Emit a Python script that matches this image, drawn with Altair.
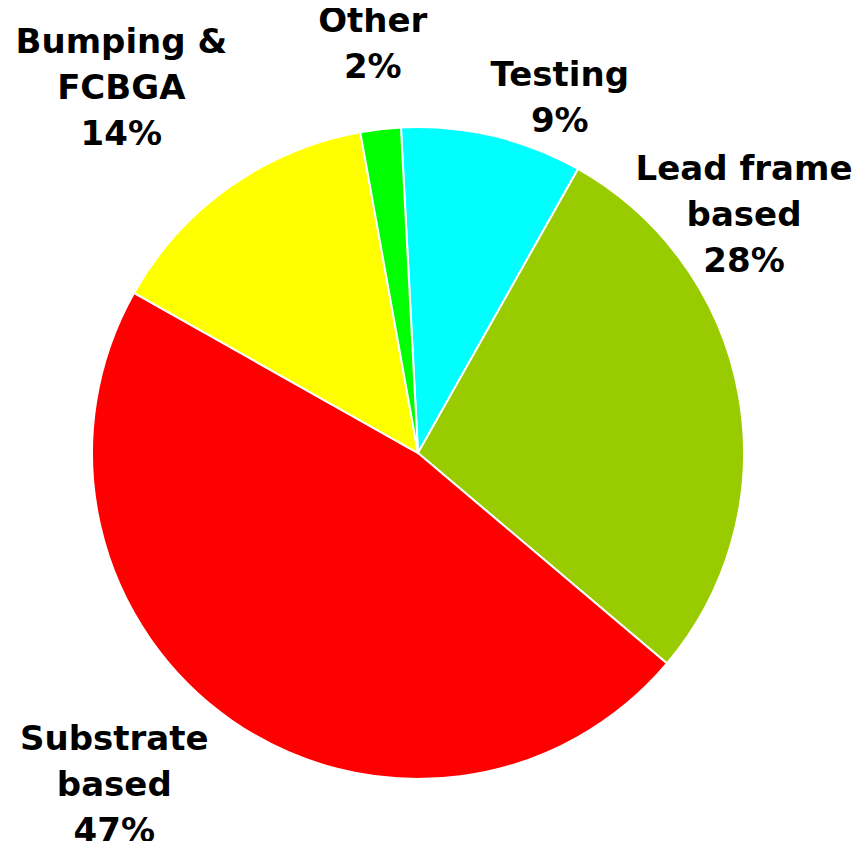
import math
import altair as alt
import pandas as pd

# Data
categories = ["Testing", "Lead frame based", "Substrate based", "Bumping & FCBGA", "Other"]
shares = [9, 28, 47, 14, 2]
colors = ["#00FFFF", "#99CC00", "#FF0000", "#FFFF00", "#00FF00"]
label_lines = ["Testing\n9%", "Lead frame\nbased\n28%", "Substrate\nbased\n47%",
               "Bumping &\nFCBGA\n14%", "Other\n2%"]
# label placement (polar: degrees clockwise from top, pixels from centre; first line)
label_angle = [20.6, 49.0, 226.6, 324.1, 354.0]
label_radius = [403, 432, 418, 506, 433]

df = pd.DataFrame({
    "category": categories,
    "share": shares,
    "order": list(range(len(categories))),
    "label": label_lines,
    "angle": label_angle,
    "lr": label_radius,
})

CX, CY, R = 410, 445, 326
start = math.radians(-3)

pie = alt.Chart(df).mark_arc(radius=R, stroke="white", strokeWidth=2, x=CX, y=CY).encode(
    theta=alt.Theta("share:Q", stack=True,
                    scale=alt.Scale(range=[start, start + 2 * math.pi])),
    color=alt.Color("category:N", scale=alt.Scale(domain=categories, range=colors), legend=None),
    order=alt.Order("order:Q"),
)

labels = alt.Chart(df).mark_text(
    font="DejaVu Sans", fontWeight="bold", fontSize=34, lineBreak="\n", lineHeight=46,
    align="center", baseline="middle", color="black", x=CX, y=CY,
).encode(
    theta=alt.Theta("angle:Q", stack=False,
                    scale=alt.Scale(type="linear", domain=[0, 360], range=[0, 2 * math.pi])),
    radius=alt.Radius("lr:Q", scale=alt.Scale(type="linear", domain=[0, 600], range=[0, 600], zero=True)),
    text="label:N",
)

chart = alt.layer(pie, labels).resolve_scale(theta="independent", radius="independent").properties(
    width=846, height=833, padding=0, autosize=alt.AutoSizeParams(type="none"),
    background="white",
).configure_view(stroke=None)

chart.save("out.html", embed_options={"renderer": "svg", "actions": False})
